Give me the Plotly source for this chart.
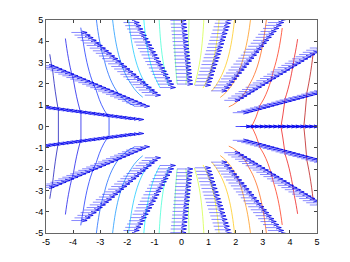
import numpy as np
import plotly.graph_objects as go

# ---- data ----
ray_angles_deg = [0.0, 18.95, 37.89, 56.84, 75.79, 94.74, 113.68, 132.63, 151.58, 170.53,
                  189.47, 208.42, 227.37, 246.32, 265.26, 284.21, 303.16, 322.11, 341.05, 360.0]
radii = [2.00, 2.17, 2.33, 2.50, 2.67, 2.83, 3.00, 3.17, 3.33, 3.50, 3.67, 3.83, 4.00,
         4.17, 4.33, 4.50, 4.67, 4.83, 5.00, 5.17, 5.33, 5.50, 5.67, 5.83, 6.00]
cylinder_radius = 2.0
contour_levels = [-6.03, -5.40, -4.76, -4.13, -3.49, -2.86, -2.22, -1.59, -0.95, -0.32,
                  0.32, 0.95, 1.59, 2.22, 2.86, 3.49, 4.13, 4.76, 5.40, 6.03]
arrow_u = 0.58
arrow_v = 0.0
tick_values = [-5, -4, -3, -2, -1, 0, 1, 2, 3, 4, 5]
tick_labels = ["-5", "-4", "-3", "-2", "-1", "0", "1", "2", "3", "4", "5"]

# ---- polar grid and potential field ----
TH, R = np.meshgrid(np.radians(ray_angles_deg), np.array(radii), indexing="ij")
X = R * np.cos(TH)
Y = R * np.sin(TH)
PHI = X * (1.0 + cylinder_radius ** 2 / R ** 2)


def jet(t):
    t = min(max(t, 0.0), 1.0)
    r = min(max(1.5 - abs(4 * t - 3), 0), 1)
    g = min(max(1.5 - abs(4 * t - 2), 0), 1)
    b = min(max(1.5 - abs(4 * t - 1), 0), 1)
    return "rgb(%d,%d,%d)" % (round(r * 255), round(g * 255), round(b * 255))


def iso_segments(Xg, Yg, Z, c):
    xs, ys = [], []
    ni, nj = Z.shape
    for i in range(ni - 1):
        for j in range(nj - 1):
            corners = [(i, j), (i + 1, j), (i + 1, j + 1), (i, j + 1)]
            vals = [Z[p] - c for p in corners]
            pts = []
            for k in range(4):
                a, b = corners[k], corners[(k + 1) % 4]
                va, vb = vals[k], vals[(k + 1) % 4]
                if (va < 0) != (vb < 0):
                    t = va / (va - vb)
                    pts.append((Xg[a] + t * (Xg[b] - Xg[a]), Yg[a] + t * (Yg[b] - Yg[a])))
            pairs = []
            if len(pts) == 2:
                pairs = [(0, 1)]
            elif len(pts) == 4:
                pairs = [(0, 1), (2, 3)]
            for p, q in pairs:
                xs += [pts[p][0], pts[q][0], None]
                ys += [pts[p][1], pts[q][1], None]
    return xs, ys


fig = go.Figure()

lo, hi = min(contour_levels), max(contour_levels)
for lev in contour_levels:
    cx, cy = iso_segments(X, Y, PHI, lev)
    fig.add_trace(go.Scatter(x=cx, y=cy, mode="lines",
                             line=dict(color=jet((lev - lo) / (hi - lo)), width=0.7),
                             hoverinfo="skip"))

# ---- quiver (MATLAB style arrows) ----
alpha, beta = 0.33, 0.33
qx, qy = [], []
hx, hy = [], []
for x0, y0 in zip(X.ravel(), Y.ravel()):
    u, v = arrow_u, arrow_v
    qx += [x0, x0 + u, None]
    qy += [y0, y0 + v, None]
    hx += [x0 + u - alpha * (u + beta * (v + 1e-9)), x0 + u,
           x0 + u - alpha * (u - beta * (v + 1e-9)), None]
    hy += [y0 + v - alpha * (v - beta * (u + 1e-9)), y0 + v,
           y0 + v - alpha * (v + beta * (u + 1e-9)), None]
fig.add_trace(go.Scatter(x=qx, y=qy, mode="lines",
                         line=dict(color="rgb(40,40,255)", width=0.55),
                         hoverinfo="skip"))
fig.add_trace(go.Scatter(x=hx, y=hy, mode="lines",
                         line=dict(color="rgb(0,0,230)", width=0.8),
                         hoverinfo="skip"))

axis_common = dict(range=[-5, 5], tickvals=tick_values, ticktext=tick_labels,
                   ticks="inside", ticklen=3, tickwidth=1, tickcolor="#444",
                   showline=True, linecolor="#666", linewidth=1, mirror="ticks",
                   showgrid=False, zeroline=False,
                   tickfont=dict(family="Liberation Sans, Arial", size=9, color="black"))

fig.update_layout(width=350, height=262,
                  margin=dict(l=46, r=33, t=20, b=29),
                  paper_bgcolor="white", plot_bgcolor="white",
                  showlegend=False,
                  xaxis=axis_common, yaxis=axis_common)

fig.write_html("out.html")
